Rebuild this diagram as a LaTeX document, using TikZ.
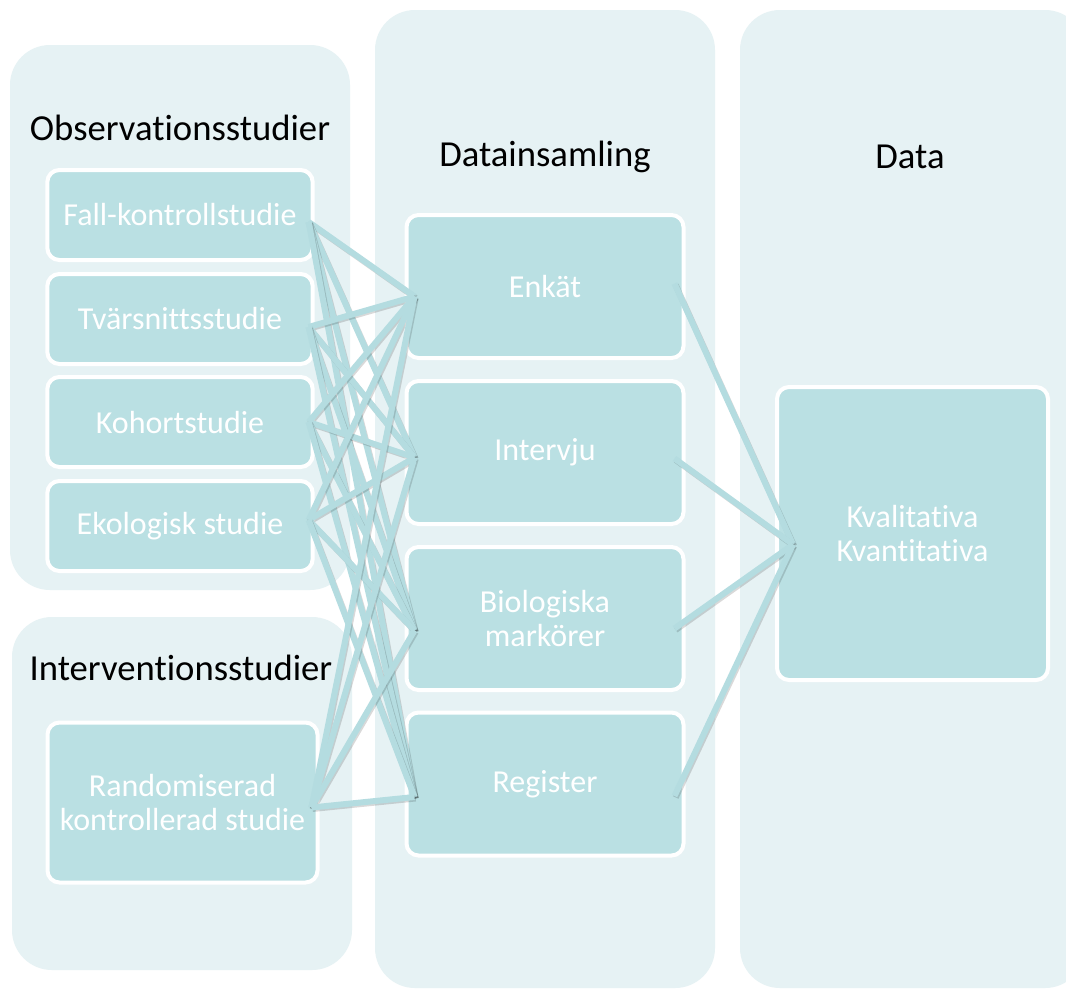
\documentclass[tikz,border=0pt]{standalone}
\usepackage{fontspec}
\setmainfont{Carlito}[Ligatures={NoCommon,NoRequired,NoContextual}, Contextuals=NoAlternate]
\usetikzlibrary{positioning, calc}
\definecolor{panelblue}{RGB}{230, 242, 244}
\definecolor{boxblue}{RGB}{186, 224, 227}
\definecolor{linkblue}{RGB}{180, 220, 224}

\tikzset{
  panel/.style={fill=panelblue, rounded corners=30pt},
  heading/.style={text=black, font=\fontsize{27.5}{33}\selectfont},
  studybox/.style={draw=white, line width=3pt, fill=boxblue, rounded corners=9pt,
    text=white, align=center, font=\fontsize{24}{26}\selectfont},
  leftbox/.style={studybox, minimum width=199pt, minimum height=67.5pt},
  midbox/.style={studybox, minimum width=207.75pt, minimum height=107.25pt},
  link/.style={draw=linkblue, line width=4.5pt,
    preaction={draw=black, draw opacity=0.15, line width=4.5pt,
      transform canvas={shift={(0.9pt,-1.1pt)}}}}
}

\begin{document}
\begin{tikzpicture}[x=0.75pt, y=-0.75pt]
  \clip (0,0) rectangle (1066,989);
  \fill[white] (0,0) rectangle (1066,989);

  % columns
  \fill[panel] (10,45) rectangle (350,590);
  \fill[panel] (12,617) rectangle (352,970);
  \fill[panel] (375,10) rectangle (715,988);
  \fill[panel] (740,10) rectangle (1085,988);

  % headings
  \node[heading] (obs) at (180,128) {Observationsstudier};
  \node[heading] (int) at (181,668) {Interventionsstudier};
  \node[heading] (coll) at (545,157) {Datainsamling};
  \node[heading] (dat) at (910,157) {Data};

  % study designs
  \node[leftbox] (fall) at (180,215) {Fall-kontrollstudie};
  \node[leftbox] (tvar) at (180,319) {Tvärsnittsstudie};
  \node[leftbox] (kohort) at (180,422) {Kohortstudie};
  \node[leftbox] (eko) at (180,526) {Ekologisk studie};
  \node[studybox, minimum width=202.5pt, minimum height=120pt] (rct) at (182.5,802.5)
    {Randomiserad\\kontrollerad studie};

  % collection methods
  \node[midbox] (enk) at (545,286.5) {Enkät};
  \node[midbox] (intv) at (545,452.5) {Intervju};
  \node[midbox] (bio) at (545,618.5) {Biologiska\\markörer};
  \node[midbox] (reg) at (545,784) {Register};

  % data
  \node[studybox, minimum width=203.25pt, minimum height=219.75pt] (data) at (912.5,533.5)
    {Kvalitativa\\Kvantitativa};

  % link ends
  \coordinate (fall-out) at ([shift={(-6,7)}]fall.east);
  \coordinate (tvar-out) at ([shift={(-6,8)}]tvar.east);
  \coordinate (kohort-out) at ([shift={(-6,0)}]kohort.east);
  \coordinate (eko-out) at ([shift={(-6,-6)}]eko.east);
  \coordinate (rct-out) at ([shift={(-8,5)}]rct.east);
  \coordinate (enk-in) at ([shift={(10,10)}]enk.west);
  \coordinate (intv-in) at ([shift={(10,5)}]intv.west);
  \coordinate (bio-in) at ([shift={(10,12)}]bio.west);
  \coordinate (reg-in) at ([shift={(10,13)}]reg.west);
  \coordinate (enk-out) at ([shift={(-11,-3)}]enk.east);
  \coordinate (intv-out) at ([shift={(-11,6)}]intv.east);
  \coordinate (bio-out) at ([shift={(-11,10)}]bio.east);
  \coordinate (reg-out) at ([shift={(-11,12)}]reg.east);
  \coordinate (data-in) at ([shift={(18,11)}]data.west);

  % links
  \foreach \s in {fall,tvar,kohort,eko,rct}
    \foreach \d in {enk,intv,bio,reg}
      \draw[link] (\s-out) -- (\d-in);
  \foreach \d in {enk,intv,bio,reg}
    \draw[link] (\d-out) -- (data-in);
\end{tikzpicture}
\end{document}
